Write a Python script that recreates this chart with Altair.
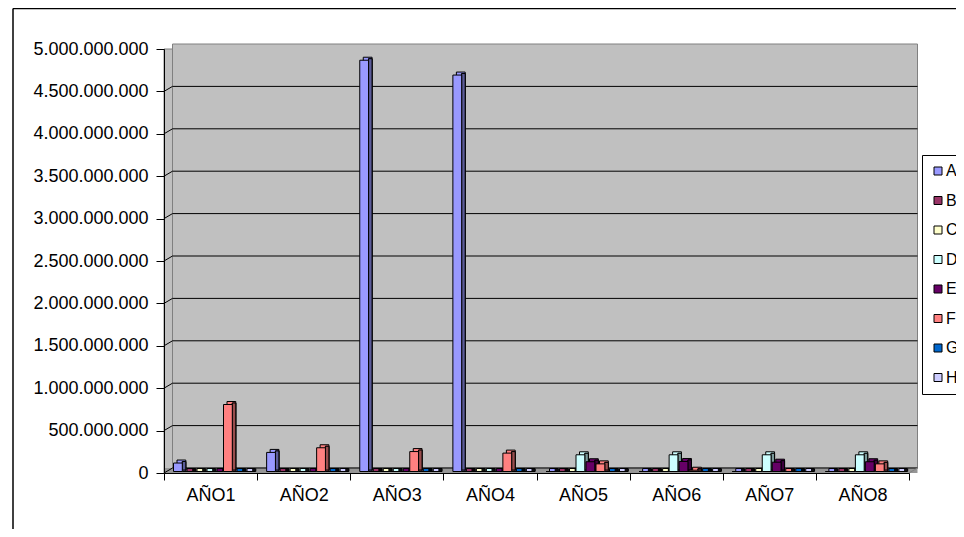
import altair as alt
import pandas as pd

# ---------------- data ----------------
years = ["AÑO1", "AÑO2", "AÑO3", "AÑO4", "AÑO5", "AÑO6", "AÑO7", "AÑO8"]
series = ["A", "B", "C", "D", "E", "F", "G", "H"]

A = [100_000_000, 225_000_000, 4_850_000_000, 4_675_000_000, 0, 0, 0, 0]
B = [0, 0, 0, 0, 0, 0, 0, 0]
C = [0, 0, 0, 0, 0, 0, 0, 0]
D = [0, 0, 0, 0, 197_000_000, 197_000_000, 197_000_000, 197_000_000]
E = [0, 0, 0, 0, 115_000_000, 118_000_000, 110_000_000, 115_000_000]
F = [790_000_000, 280_000_000, 235_000_000, 217_000_000, 90_000_000, 15_000_000, 0, 90_000_000]
G = [0, 0, 0, 0, 0, 0, 0, 0]
Hs = [0, 0, 0, 0, 0, 0, 0, 0]

y_ticks = [0, 500_000_000, 1_000_000_000, 1_500_000_000, 2_000_000_000,
           2_500_000_000, 3_000_000_000, 3_500_000_000, 4_000_000_000,
           4_500_000_000, 5_000_000_000]

colors = ["#9999FF", "#993366", "#FFFFCC", "#CCFFFF", "#660066", "#FF8080", "#0066CC", "#CCCCFF"]

values = {"A": A, "B": B, "C": C, "D": D, "E": E, "F": F, "G": G, "H": Hs}
rows = []
for s in series:
    for yr, v in zip(years, values[s]):
        rows.append({"year": yr, "serie": s, "valor": v})
df = pd.DataFrame(rows)
grid_df = pd.DataFrame({"v": y_ticks})
one = pd.DataFrame({"k": [0]})

# ---------------- layout ----------------
W, H = 745, 424
DX, DY = 8.5, 5          # 3D depth of the walls
FONT = "Liberation Sans"
n = len(series)
group_step = W / len(years)
sub = 10.0               # spacing between bars of a group
bar_left = 9.5           # front face start inside its group
bar_w = 8.8
face = 3.5               # bar depth


def sub_scale(pi, start):
    total = group_step / sub
    po = (total - n + pi) / 2
    outer = group_step - sub * (n - pi)
    return alt.Scale(domain=series, paddingInner=pi, paddingOuter=po, align=start / outer)


front_scale = sub_scale(1 - bar_w / sub, bar_left)
top_scale = sub_scale(1 - bar_w / sub, bar_left + face)
side_scale = sub_scale(1 - face / sub, bar_left + bar_w)

ysc = alt.Scale(domain=[0, 5_000_000_000], nice=False, zero=True)
xsc = alt.Scale(domain=years, paddingInner=0, paddingOuter=0)
csc = alt.Scale(domain=series, range=colors)

xaxis = alt.Axis(title=None, labelAngle=0, tickBand="extent", tickSize=7, labelPadding=6,
                 labelFont=FONT, labelFontSize=18, labelColor="black",
                 domainColor="black", tickColor="black", grid=False, zindex=1)
yaxis = alt.Axis(title=None, values=y_ticks, format=",d", tickSize=8, labelPadding=8,
                 labelExpr="replace(datum.label, regexp(',', 'g'), '.')",
                 labelFont=FONT, labelFontSize=18, labelColor="black",
                 domainColor="black", tickColor="black", grid=False, zindex=1)
legend = alt.Legend(orient="none", legendX=758, legendY=106, title=None,
                    symbolType="square", symbolSize=64, symbolStrokeColor="black",
                    symbolStrokeWidth=1, symbolOpacity=1,
                    labelFont=FONT, labelFontSize=16, labelColor="black",
                    labelOffset=0, rowPadding=13.5, padding=8,
                    strokeColor="black", fillColor="white")


def Yd(d):
    return alt.Y(datum=d, type="quantitative", scale=ysc, axis=yaxis)


# ---------------- walls ----------------
side_wall = alt.Chart(one).mark_rect(fill="#C0C0C0", stroke="#808080", strokeWidth=1).encode(
    x=alt.value(0), x2=alt.value(DX), y=Yd(5_000_000_000), y2=alt.Y2(datum=0))

back_wall = alt.Chart(one).mark_rect(fill="#C0C0C0", stroke="#808080", strokeWidth=1,
                                      yOffset=-DY, y2Offset=-DY).encode(
    x=alt.value(DX), x2=alt.value(W + DX), y=Yd(5_000_000_000), y2=alt.Y2(datum=0))

floor = alt.Chart(one).mark_rect(fill="#969696", yOffset=-DY).encode(
    x=alt.value(0), x2=alt.value(W + DX), y=Yd(0), y2=alt.Y2(datum=0))

grid_back = alt.Chart(grid_df).transform_filter("datum.v < 5000000000").mark_rule(
    color="black", strokeWidth=1, yOffset=-DY).encode(
    x=alt.value(DX), x2=alt.value(W + DX),
    y=alt.Y("v:Q", scale=ysc, axis=yaxis))

grid_side = alt.Chart(grid_df).transform_filter("datum.v < 5000000000").mark_rule(
    color="black", strokeWidth=1, y2Offset=-DY).encode(
    x=alt.value(0), x2=alt.value(DX),
    y=alt.Y("v:Q", scale=ysc, axis=yaxis), y2=alt.Y2("v"))

floor_right = alt.Chart(one).mark_rule(color="#808080", strokeWidth=1, y2Offset=-DY).encode(
    x=alt.value(W), x2=alt.value(W + DX), y=Yd(0), y2=alt.Y2(datum=0))

# ---------------- bars ----------------
X = alt.X("year:N", scale=xsc, axis=xaxis)
Yv = alt.Y("valor:Q", scale=ysc, axis=yaxis)
Col = alt.Color("serie:N", scale=csc, legend=legend)

top_face = alt.Chart(df).mark_bar(stroke="black", strokeWidth=1, yOffset=-4.5, y2Offset=-1.5).encode(
    x=X, xOffset=alt.XOffset("serie:N", scale=top_scale),
    y=Yv, y2=alt.Y2(datum=0), color=Col)

side_black = alt.Chart(df).mark_bar(fill="black", stroke="black", strokeWidth=1,
                                    yOffset=-3, y2Offset=-3).encode(
    x=X, xOffset=alt.XOffset("serie:N", scale=side_scale),
    y=Yv, y2=alt.Y2(datum=0))

side_face = alt.Chart(df).mark_bar(stroke="black", strokeWidth=1, fillOpacity=0.6,
                                   yOffset=-3, y2Offset=-3).encode(
    x=X, xOffset=alt.XOffset("serie:N", scale=side_scale),
    y=Yv, y2=alt.Y2(datum=0), color=Col)

front_face = alt.Chart(df).mark_bar(stroke="black", strokeWidth=1, yOffset=-1.5, y2Offset=-1.5).encode(
    x=X, xOffset=alt.XOffset("serie:N", scale=front_scale),
    y=Yv, y2=alt.Y2(datum=0), color=Col)

# ---------------- outer chart border ----------------
border_left = alt.Chart(one).mark_rule(color="black", strokeWidth=1.5).encode(
    x=alt.value(-151), y=alt.value(-40.5), y2=alt.value(700))
border_top = alt.Chart(one).mark_rule(color="black", strokeWidth=1.5).encode(
    x=alt.value(-151), x2=alt.value(1000), y=alt.value(-40.5))

chart = alt.layer(
    side_wall, back_wall, floor, grid_back, grid_side, floor_right,
    top_face, side_black, side_face, front_face, border_left, border_top
).resolve_scale(xOffset="independent").properties(
    width=W, height=H,
    autosize=alt.AutoSizeParams(type="none"),
    padding={"left": 156, "top": 41, "right": 47, "bottom": 56},
    background="white",
).configure_view(stroke="transparent")

chart.save("out.html", embed_options={"renderer": "svg", "actions": False})
